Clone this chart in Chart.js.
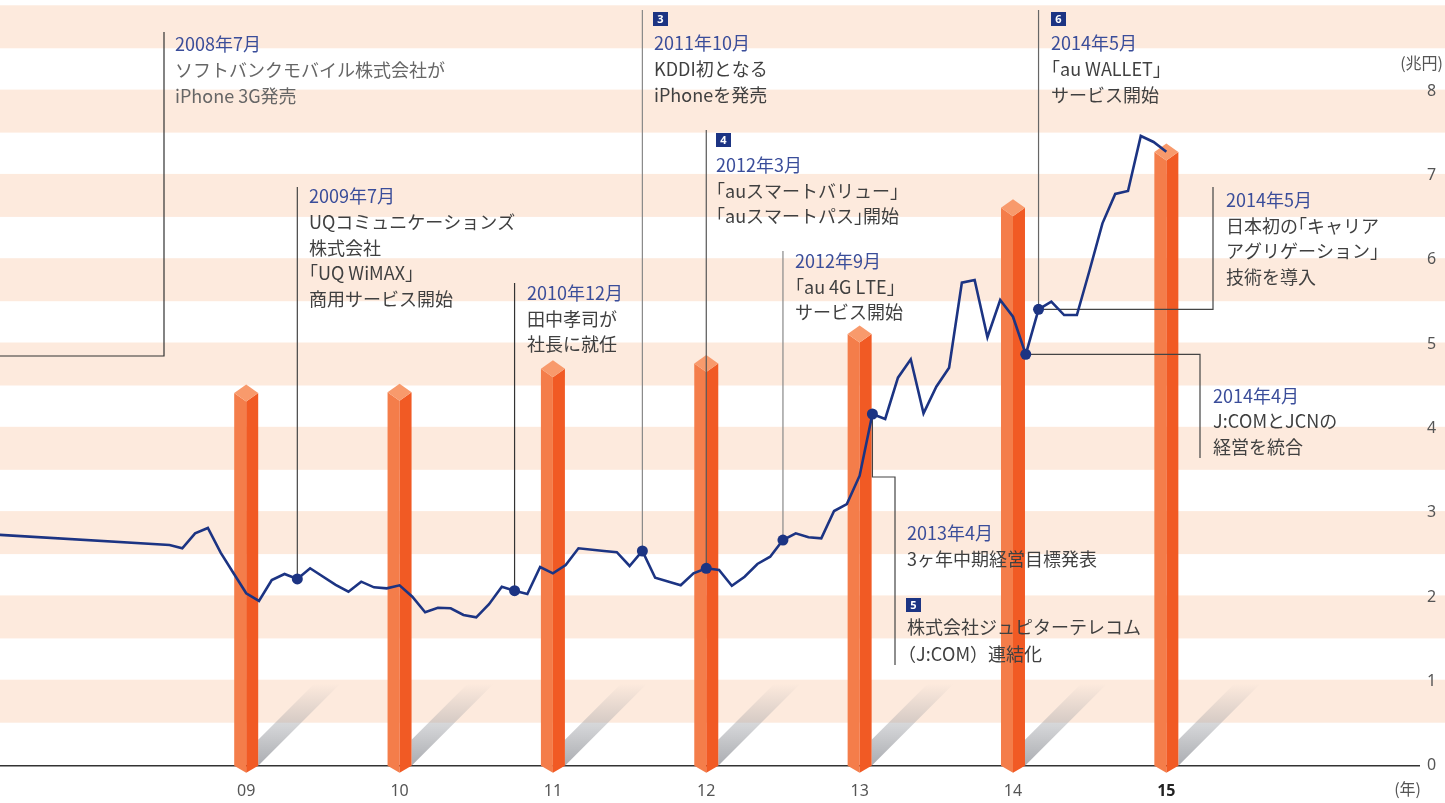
<!DOCTYPE html>
<html lang="ja">
<head>
<meta charset="utf-8">
<title>KDDI 推移</title>
<script src="https://cdn.jsdelivr.net/npm/chart.js@4.4.1/dist/chart.umd.min.js"></script>
<style>
  html, body { margin: 0; padding: 0; background: #fff; }
  #wrap { position: relative; width: 1445px; height: 803px; }
</style>
</head>
<body>
<div id="wrap"><canvas id="chart"></canvas></div>
<script>
// 月番号: 0 = 2009年3月（目盛り「09」）、12ヶ月ごとに1年
const lineMonths = [-20, -6, -5, -4, -3, -2, -1, 0, 1, 2, 3, 4, 5, 7, 8, 9, 10, 11, 12, 13, 14, 15, 16, 17, 18, 19, 20,
  21, 22, 23, 24, 25, 26, 28, 29, 30, 31, 32, 34, 35, 36, 37, 38, 39, 40, 41, 42, 43, 44, 45, 46, 47, 48,
  49, 50, 51, 52, 53, 54, 55, 56, 57, 58, 59, 60, 61, 62, 63, 64, 65, 66, 67, 68, 69, 70, 71, 72];
const lineValues = [2.745, 2.618, 2.579, 2.757, 2.820, 2.527, 2.286, 2.045, 1.954, 2.203, 2.274, 2.215, 2.342, 2.144, 2.064,
  2.183, 2.116, 2.104, 2.140, 2.005, 1.820, 1.874, 1.867, 1.788, 1.760, 1.915, 2.123,
  2.076, 2.037, 2.357, 2.282, 2.381, 2.579, 2.547, 2.533, 2.369, 2.547, 2.230, 2.140, 2.282, 2.342, 2.321, 2.135,
  2.242, 2.393, 2.479, 2.677, 2.757, 2.709, 2.697, 3.021, 3.104, 3.44,
  4.172, 4.113, 4.603, 4.821, 4.180, 4.496, 4.721, 5.730, 5.762, 5.082, 5.524, 5.326, 4.880, 5.414, 5.504, 5.346,
  5.346, 5.880, 6.434, 6.782, 6.817, 7.470, 7.399, 7.283];
const markerMonths = [4, 21, 31, 36, 42, 49, 61, 62];

const barMonths = [0, 12, 24, 36, 48, 60, 72];
const barValues = [4.42, 4.43, 4.71, 4.77, 5.12, 6.62, 7.28];
const yearLabels = ['09', '10', '11', '12', '13', '14', '15'];
const yMax = 9;
const yLabelMax = 8;

const NAVY = '#1c3483';
const BLUE_TXT = '#3a4d9a';
const JP_FONT = '18px "Noto Sans CJK JP", "Noto Sans", sans-serif';

// 吹き出し（マーカーからの引き出し線）
const callouts = [
  { m: null, color: '#333', path: () => [[164, 32], [164, 356], [0, 356]] },
  { m: 4, color: '#444', path: p => [[p.x, 187], [p.x, p.y]] },
  { m: 21, color: '#333', path: p => [[p.x, 283], [p.x, p.y]] },
  { m: 31, color: '#888', path: p => [[p.x, 10], [p.x, p.y]] },
  { m: 36, color: '#555', path: p => [[p.x, 130], [p.x, p.y]] },
  { m: 42, color: '#888', path: p => [[p.x, 251], [p.x, p.y]] },
  { m: 49, color: '#444', path: p => [[p.x, p.y], [p.x, 477], [895, 477], [895, 665]] },
  { m: 62, color: '#666', path: p => [[p.x, 10], [p.x, p.y]] },
  { m: 62, color: '#444', path: p => [[p.x, p.y], [1213, p.y], [1213, 187]] },
  { m: 61, color: '#444', path: p => [[p.x, p.y], [1200, p.y], [1200, 458]] }
];

const textBlocks = [
  { x: 175, color: '#666', lines: [['2008年7月', 44, true], ['ソフトバンクモバイル株式会社が', 70], ['iPhone 3G発売', 96]] },
  { x: 309, lines: [['2009年7月', 196, true], ['UQコミュニケーションズ', 222], ['株式会社', 248], ['「UQ WiMAX」', 273], ['商用サービス開始', 299]] },
  { x: 527, lines: [['2010年12月', 293, true], ['田中孝司が', 319], ['社長に就任', 344]] },
  { x: 654, badge: ['3', 653, 12], lines: [['2011年10月', 43, true], ['KDDI初となる', 69], ['iPhoneを発売', 95]] },
  { x: 716, badge: ['4', 716, 133], lines: [['2012年3月', 165, true], ['「auスマートバリュー」', 191], ['「auスマートパス」開始', 216]] },
  { x: 795, lines: [['2012年9月', 261, true], ['「au 4G LTE」', 287], ['サービス開始', 312]] },
  { x: 907, badge: ['5', 906, 598], lines: [['2013年4月', 533, true], ['3ヶ年中期経営目標発表', 559], ['株式会社ジュピターテレコム', 627], ['（J:COM）連結化', 654]] },
  { x: 1051, badge: ['6', 1051, 12], lines: [['2014年5月', 43, true], ['「au WALLET」', 69], ['サービス開始', 95]] },
  { x: 1226, lines: [['2014年5月', 200, true], ['日本初の「キャリア', 226], ['アグリゲーション」', 251], ['技術を導入', 277]] },
  { x: 1213, lines: [['2014年4月', 396, true], ['J:COMとJCNの', 421], ['経営を統合', 447]] }
];

function poly(ctx, pts, color) {
  ctx.beginPath();
  ctx.moveTo(pts[0][0], pts[0][1]);
  for (let i = 1; i < pts.length; i++) ctx.lineTo(pts[i][0], pts[i][1]);
  ctx.closePath();
  ctx.fillStyle = color;
  ctx.fill();
}

// 括弧を詰めて描く（約物半角）
function drawJP(ctx, text, x, y) {
  let cx = x;
  for (const ch of text) {
    const w = ctx.measureText(ch).width;
    if (ch === '「' || ch === '（') {
      ctx.fillText(ch, cx - w / 2, y);
      cx += w / 2;
    } else if (ch === '」') {
      ctx.fillText(ch, cx, y);
      cx += w / 2;
    } else {
      ctx.fillText(ch, cx, y);
      cx += w;
    }
  }
}

function markerPixel(chart, m) {
  const v = lineValues[lineMonths.indexOf(m)];
  return { x: chart.scales.x.getPixelForValue(m), y: chart.scales.y.getPixelForValue(v) };
}

const stripePlugin = {
  id: 'stripes',
  beforeDraw(chart) {
    const { ctx } = chart;
    const y = chart.scales.y;
    ctx.save();
    ctx.fillStyle = '#fdeadd';
    for (let n = 1; n <= yMax; n++) {
      const top = y.getPixelForValue(n + 0.02);
      const bot = y.getPixelForValue(n - 0.49);
      ctx.fillRect(0, top, chart.width, bot - top);
    }
    ctx.restore();
  }
};

const barPlugin = {
  id: 'bars3d',
  afterDatasetDraw(chart, args) {
    if (args.meta.type !== 'bar') return;
    const ctx = chart.ctx;
    const els = args.meta.data;
    ctx.save();
    // 影
    els.forEach(el => {
      const xr = el.x + el.width / 2;
      const b = el.base;
      const g = ctx.createLinearGradient(0, b, 0, b - 82);
      g.addColorStop(0, 'rgba(150,152,158,0.8)');
      g.addColorStop(1, 'rgba(150,152,158,0)');
      ctx.beginPath();
      ctx.moveTo(xr, b);
      ctx.lineTo(xr + 82, b - 82);
      ctx.lineTo(xr + 56, b - 82);
      ctx.lineTo(xr, b - 26);
      ctx.closePath();
      ctx.fillStyle = g;
      ctx.fill();
    });
    // 立体の棒
    els.forEach(el => {
      const cx = el.x, hw = el.width / 2, t = el.y, b = el.base;
      const cap = 8.5, v = 7;
      poly(ctx, [[cx - hw, t], [cx, t + cap], [cx, b + v], [cx - hw, b]], '#f47d4a');
      poly(ctx, [[cx, t + cap], [cx + hw, t], [cx + hw, b], [cx, b + v]], '#f15a24');
      poly(ctx, [[cx, t - cap], [cx + hw, t], [cx, t + cap], [cx - hw, t]], '#f89a6c');
    });
    // 引き出し線
    ctx.lineWidth = 1.2;
    callouts.forEach(c => {
      const p = c.m === null ? null : markerPixel(chart, c.m);
      const pts = c.path(p);
      ctx.strokeStyle = c.color;
      ctx.beginPath();
      ctx.moveTo(pts[0][0], pts[0][1]);
      for (let i = 1; i < pts.length; i++) ctx.lineTo(pts[i][0], pts[i][1]);
      ctx.stroke();
    });
    ctx.restore();
  },
  afterDatasetsDraw(chart) {
    const ctx = chart.ctx;
    ctx.save();
    ctx.textBaseline = 'middle';
    ctx.textAlign = 'left';
    textBlocks.forEach(blk => {
      if (blk.badge) {
        const [num, bx, by] = blk.badge;
        ctx.fillStyle = NAVY;
        ctx.fillRect(bx, by, 15, 14);
        ctx.fillStyle = '#fff';
        ctx.font = 'bold 11px "Noto Sans", sans-serif';
        ctx.textAlign = 'center';
        ctx.fillText(num, bx + 7.5, by + 7.5);
        ctx.textAlign = 'left';
      }
      ctx.font = JP_FONT;
      blk.lines.forEach(([txt, ly, isDate]) => {
        ctx.fillStyle = isDate ? BLUE_TXT : (blk.color || '#404040');
        drawJP(ctx, txt, blk.x, ly);
      });
    });
    // 単位
    ctx.fillStyle = '#555';
    ctx.font = '16px "Noto Sans CJK JP", "Noto Sans", sans-serif';
    ctx.textAlign = 'right';
    ctx.fillText('(兆円)', 1443, 63);
    ctx.fillText('(年)', 1421, 789);
    ctx.restore();
  }
};

new Chart(document.getElementById('chart'), {
  data: {
    datasets: [
      {
        type: 'bar',
        data: barMonths.map((m, i) => ({ x: m, y: barValues[i] })),
        backgroundColor: 'rgba(0,0,0,0)',
        borderWidth: 0,
        barThickness: 24,
        order: 2
      },
      {
        type: 'line',
        data: lineMonths.map((m, i) => ({ x: m, y: lineValues[i] })),
        borderColor: NAVY,
        borderWidth: 2.6,
        tension: 0,
        pointRadius: ctx => (ctx.raw && markerMonths.includes(ctx.raw.x)) ? 5.5 : 0,
        pointHoverRadius: 0,
        pointBackgroundColor: NAVY,
        pointBorderWidth: 0,
        order: 1
      }
    ]
  },
  options: {
    responsive: true,
    maintainAspectRatio: false,
    animation: false,
    events: [],
    layout: { padding: { top: 7, left: 0, right: 0, bottom: 0 } },
    plugins: {
      legend: { display: false },
      tooltip: { enabled: false }
    },
    scales: {
      x: {
        type: 'linear',
        position: 'bottom',
        offset: false,
        min: -19.265,
        max: 91.77,
        grid: { display: false, drawTicks: false, offset: false },
        border: { display: true, color: '#333', width: 1.5 },
        afterBuildTicks: scale => { scale.ticks = barMonths.map(v => ({ value: v })); },
        afterFit: scale => {
          scale.height = 37.3;
          scale.paddingLeft = 0;
          scale.paddingRight = 0;
        },
        ticks: {
          padding: 16,
          color: ctx => ctx.tick && ctx.tick.value === 72 ? '#222' : '#555',
          font: ctx => ({
            family: '"Noto Sans", sans-serif',
            size: 16,
            weight: ctx.tick && ctx.tick.value === 72 ? 'bold' : 'normal'
          }),
          maxRotation: 0,
          autoSkip: false,
          callback: value => yearLabels[barMonths.indexOf(value)]
        }
      },
      y: {
        position: 'right',
        min: 0,
        max: yMax,
        grid: { display: false, drawTicks: false },
        border: { display: false },
        afterFit: scale => {
          scale.width = 26;
          scale.paddingTop = 0;
          scale.paddingBottom = 0;
        },
        ticks: {
          stepSize: 1,
          padding: 8,
          color: '#555',
          font: { family: '"Noto Sans", sans-serif', size: 16 },
          callback: v => (v <= yLabelMax ? String(v) : '')
        }
      }
    }
  },
  plugins: [stripePlugin, barPlugin]
});
</script>
</body>
</html>
